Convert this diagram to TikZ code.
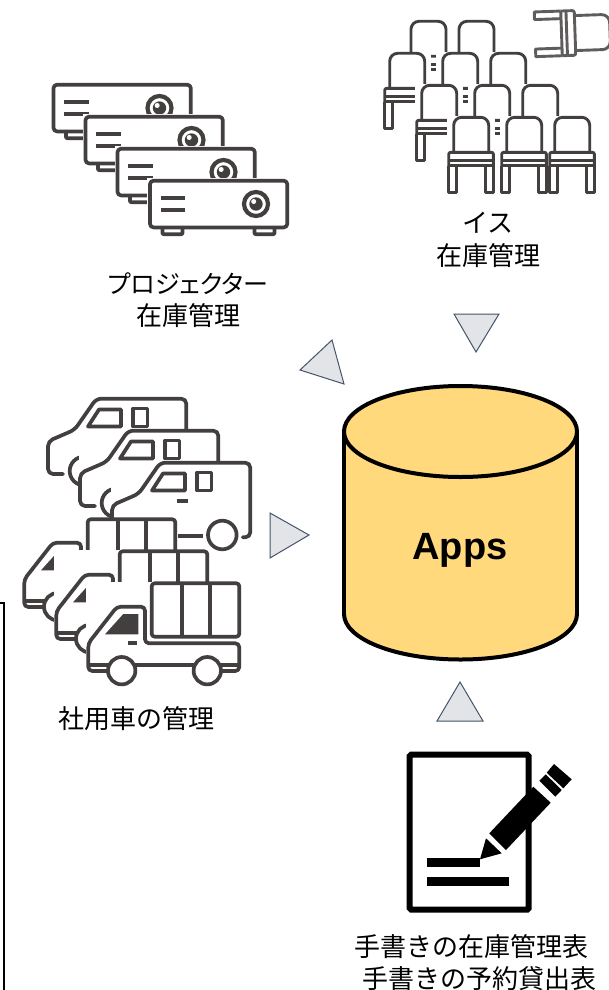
\documentclass[tikz,border=0pt]{standalone}
\usepackage{fontspec}
\setmainfont{Liberation Sans}
\newfontfamily\jp{Noto Sans CJK JP}
\newfontfamily\jpp[RawFeature=+palt]{Noto Sans CJK JP}
\definecolor{ink}{HTML}{433F3F}
\definecolor{cylfill}{HTML}{FFD97C}
\definecolor{trifill}{HTML}{E2E4E7}
\definecolor{tristroke}{HTML}{44546A}
\tikzset{
  icon/.style={draw=ink,line width=3.7pt,line join=round,line cap=round},
  thinicon/.style={draw=ink,line width=2.9pt,line join=round},
  mask/.style={fill=white,draw=none},
  tri/.style={draw=tristroke,fill=trifill,line width=1pt,line join=miter},
  captxt/.style={font=\jp\fontsize{26}{30}\selectfont,text=black,align=center,inner sep=0pt},
}
\newcommand{\projector}[2]{%
\begin{scope}[shift={(#1,#2)}]
  \fill[mask] (-3,-3) rectangle (140,56);
  \draw[icon,rounded corners=3.5pt] (0,0) rectangle (137.3,46.7);
  \draw[icon,line cap=butt] (10.7,17.3) -- (35,17.3) (10.7,29) -- (35,29);
  \draw[icon,rounded corners=1pt] (12.5,47) -- (12.5,53.5) -- (32.5,53.5) -- (32.5,47);
  \draw[icon,rounded corners=1pt] (104.5,47) -- (104.5,53.5) -- (124.5,53.5) -- (124.5,47);
  \draw[draw=ink,line width=4.2pt,fill=white] (106,23.3) circle[radius=12];
  \fill[ink] (106,23.3) circle[radius=6.7];
  \fill[white] (103.7,20.8) circle[radius=2.5];
\end{scope}}
\newcommand{\chairdraw}[1][ink]{%
  \draw[thinicon,draw=#1,rounded corners=8pt] (5,35) -- (5,0) -- (40,0) -- (40,35);
  \draw[thinicon,draw=#1,rounded corners=2pt] (0,48.5) -- (0,35) -- (44.7,35) -- (44.7,48.5);
  \draw[thinicon,draw=#1] (0,43.3) -- (44.7,43.3) (0,48.5) -- (44.7,48.5);
  \draw[thinicon,draw=#1] (0,48.5) -- (0,75) -- (7.6,75) -- (7.6,48.5);
  \draw[thinicon,draw=#1] (37.1,48.5) -- (37.1,75) -- (44.7,75) -- (44.7,48.5);
}
\newcommand{\chair}[2]{%
\begin{scope}[shift={(#1,#2)}]
  \fill[mask] (-1.3,-1.5) rectangle (46,77);
  \chairdraw
\end{scope}}
\newcommand{\van}[3][]{%
\begin{scope}[shift={(#2,#3)}]
  \fill[mask] (111,71.3) rectangle (254,160);
  \draw[icon,rounded corners=5pt] (127,148) -- (112,148) -- (112,115.3) -- (138.7,103.7) -- (160.3,72.7) -- (250.3,72.7) -- (250.3,147.3) -- (242.7,147.3);
  \draw[icon,line cap=butt] (177,146) -- (203,146);
  \draw[icon] (148,145) circle[radius=14.3];
  \draw[icon,fill=white] (222.3,145) circle[radius=14.3];
  \draw[icon] (163,83.5) -- (185,83.5) -- (185,100.5) -- (152,100.5) -- cycle;
  \draw[icon] (197,82.5) rectangle (211.5,100.5);
  #1
\end{scope}}
\newcommand{\truck}[2]{%
\begin{scope}[shift={(#1,#2)}]
  \fill[mask] (86,191.7) rectangle (241.7,296.7);
  \draw[icon,rounded corners=3pt] (151.7,193.3) rectangle (239.3,246.7);
  \draw[icon,line cap=butt] (181.7,193.3) -- (181.7,246.7) (210,193.3) -- (210,246.7);
  \draw[icon,rounded corners=4pt] (110,281) -- (88.3,281) -- (88.3,253.3) -- (117,216.7) -- (145,216.7) -- (145,253.3) -- (239.3,253.3) -- (239.3,281) -- (220,281);
  \draw[icon,line cap=butt] (88.3,275) -- (111,275) (134,275) -- (195,275) (220,275) -- (239.3,275);
  \draw[icon,fill=white] (121.7,280.7) circle[radius=13.7];
  \draw[icon,fill=white] (207.3,280.7) circle[radius=13.7];
  \fill[ink] (123.3,224) -- (138.3,224) -- (138.3,244.3) -- (105,244.3) -- cycle;
  \fill[ink] (128.3,250.7) rectangle (136.7,255);
\end{scope}}
\begin{document}
\begin{tikzpicture}[x=1pt,y=-1pt]
\useasboundingbox (0,0) rectangle (608,990);
% left frame fragment
\draw[black,line width=1.7pt] (0,603) -- (4,603) -- (4,990);
% projectors
\projector{53.5}{84.7}
\projector{85.5}{116.7}
\projector{117.5}{148.7}
\projector{150}{180.7}
% chairs
\chair{406}{21.3}
\chair{454}{21.3}
\chair{384.7}{53.3}
\chair{437.7}{53.3}
\chair{485.7}{53.3}
\chair{416.7}{85.3}
\chair{469.7}{85.3}
\chair{517.7}{85.3}
\chair{448.7}{117.3}
\chair{501.7}{117.3}
\chair{549.7}{117.3}
\begin{scope}[shift={(572.5,33)},rotate=-88,shift={(-22.35,-37.5)}]
  \chairdraw[ink!85]
\end{scope}
% vans
\van{-64}{326}
\van{-32}{358}
\van[{\draw[icon,line cap=butt] (177,110.7) -- (188,110.7);}]{0}{390}
% trucks
\truck{-64}{326}
\truck{-32}{358}
\truck{0}{390}
% cylinder
\draw[black,line width=4pt,fill=cylfill] (460.5,614) ellipse[x radius=116.5,y radius=45.5];
\fill[cylfill] (344,431.5) rectangle (577,614);
\draw[black,line width=4pt] (344,431.5) -- (344,614) (577,431.5) -- (577,614);
\draw[black,line width=4pt,fill=cylfill] (460.5,431.5) ellipse[x radius=116.5,y radius=45.5];
\node[inner sep=0pt,font=\bfseries\fontsize{38}{42}\selectfont] (apps) at (460,550) {Apps};
% triangles
\draw[tri] (300,370) -- (332,340) -- (344,384) -- cycle;
\draw[tri] (454,314) -- (499,314) -- (476,352) -- cycle;
\draw[tri] (270,513) -- (270,558) -- (309,535) -- cycle;
\draw[tri] (437,721) -- (483,721) -- (460,682) -- cycle;
% document with pen
\draw[black,line width=6pt,rounded corners=1.5pt] (409.7,754.7) rectangle (528.7,909.7);
\fill[black] (427.3,858.3) rectangle (480,866.7);
\fill[black] (427.3,877.3) rectangle (509.3,885.7);
\fill[black] (489.3,833.3) -- (533.3,786.7) -- (550.7,802.7) -- (506,850) -- cycle;
\fill[black] (486,838.3) -- (501.7,853.3) -- (480,859.3) -- cycle;
\fill[black] (539.3,780.7) -- (545.7,774.3) -- (561.7,790) -- (555.3,796.7) -- cycle;
\fill[black] (546.7,772.7) -- (554,764) -- (571.7,779.3) -- (563.3,788.3) -- cycle;
% captions
\node[captxt] (isu1) at (488,223) {イス};
\node[captxt] (isu2) at (488,256) {在庫管理};
\node[captxt] (pj1) at (188,284) {{\jpp\fontsize{25}{30}\selectfont プロジェクター}};
\node[captxt] (pj2) at (188,316) {在庫管理};
\node[captxt] (car) at (136,719) {社用車の管理};
\node[captxt] (hand1) at (471,947) {手書きの在庫管理表};
\node[captxt] (hand2) at (479,979) {手書きの予約貸出表};
\end{tikzpicture}
\end{document}
